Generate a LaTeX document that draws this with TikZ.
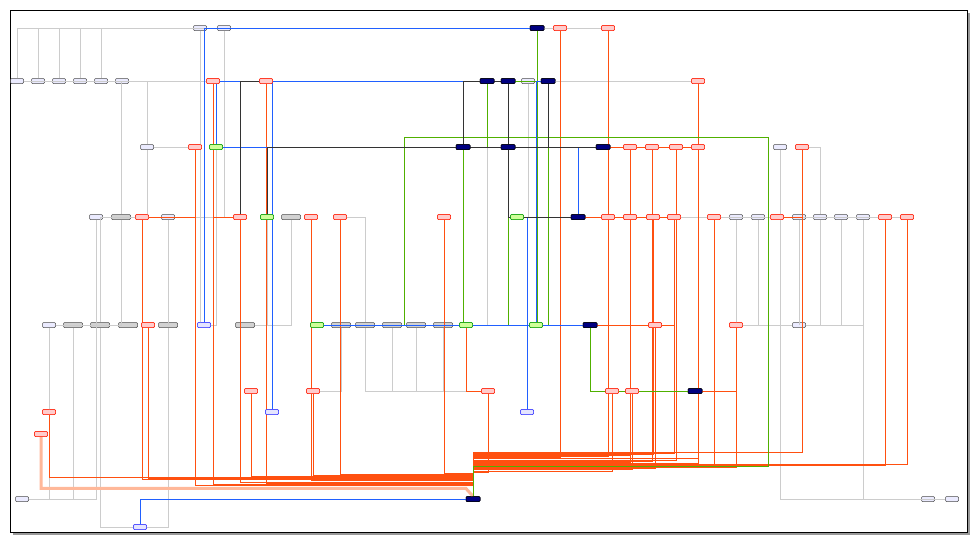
\documentclass[tikz,border=0pt]{standalone}
\begin{document}
\begin{tikzpicture}[x=1pt,y=-1pt,
 nb/.style={draw=black!70,fill=blue!8,rounded corners=1pt,minimum width=13pt,minimum height=5pt,inner sep=0pt,line width=0.5pt},
 ng/.style={nb,fill=gray!35,minimum width=19pt},
 nn/.style={nb,draw=black,fill=blue!50!black,minimum width=14pt},
 np/.style={nb,draw=red!80!orange,fill=red!20},
 nl/.style={nb,draw=green!60!black,fill=green!30!lime!40},
 nbl/.style={nb,draw=blue!80,fill=blue!10},
 oe/.style={draw={rgb,255:red,255;green,80;blue,16},line width=0.6pt},
 ge/.style={draw={rgb,255:red,80;green,176;blue,0},line width=0.6pt},
 be/.style={draw={rgb,255:red,32;green,96;blue,255},line width=0.6pt},
 ke/.style={draw=black!80,line width=0.5pt},
 ye/.style={draw=black!20,line width=0.5pt}]
\useasboundingbox (0,0) rectangle (977,542);
\fill[black!40] (13,13) rectangle (970,535);
\draw[fill=white,line width=0.6pt] (10,10) rectangle (967,532);
\foreach \n/\x/\y/\s in {
a1/200/28/nb,a2/224/28/nb,a3/537/28/nn,a4/560/28/np,a5/608/28/np,
b1/17/81/nb,b2/38/81/nb,b3/59/81/nb,b4/80/81/nb,b5/101/81/nb,b6/122/81/nb,b7/213/81/np,b8/266/81/np,b9/487/81/nn,b10/508/81/nn,b11/528/81/nb,b12/548/81/nn,b13/698/81/np,
c1/147/147/nb,c2/195/147/np,c3/216/147/nl,c4/463/147/nn,c5/508/147/nn,c6/603/147/nn,c7/630/147/np,c8/652/147/np,c9/676/147/np,c10/698/147/np,c11/780/147/nb,c12/802/147/np,
d1/96/217/nb,d2/121/217/ng,d3/142/217/np,d4/168/217/nb,d5/240/217/np,d6/267/217/nl,d7/291/217/ng,d8/311/217/np,d9/340/217/np,d10/444/217/np,d11/517/217/nl,d12/578/217/nn,d13/608/217/np,d14/630/217/np,d15/653/217/np,d16/674/217/np,d17/714/217/np,d18/736/217/nb,d19/758/217/nb,d20/777/217/np,d21/799/217/nb,d22/820/217/nb,d23/841/217/nb,d24/863/217/nb,d25/885/217/np,d26/907/217/np,
e1/49/325/nb,e2/73/325/ng,e3/100/325/ng,e4/128/325/ng,e5/148/325/np,e6/168/325/ng,e7/204/325/nbl,e8/245/325/ng,e9/317/325/nl,e10/341/325/ng,e11/365/325/ng,e12/392/325/ng,e13/416/325/ng,e14/443/325/ng,e15/466/325/nl,e16/536/325/nl,e17/590/325/nn,e18/655/325/np,e19/736/325/np,e20/799/325/nb,
f1/251/391/np,f2/313/391/np,f3/488/391/np,f4/612/391/np,f5/632/391/np,f6/695/391/nn,
g1/272/412/nbl,g2/527/412/nbl,g3/49/412/np,g4/41/434/np,
h1/22/499/nb,h2/473/499/nn,h3/928/499/nb,h4/952/499/nb,h5/140/527/nbl}
 \node[\s] (\n) at (\x,\y) {};
\foreach \a/\b in {a1/d1,a2/a3,a1/c1,a2/d4,b1/a3,b2/a3,b3/a3,b4/a4,b5/a5,b6/b13,c1/d3,c1/d4,d1/e1,d2/e2,d4/e6,d1/h1,e1/h1,d2/e4,c11/d21,d18/e20,d19/e20,d21/e20,d22/e20,d23/e20,d24/e20,b11/d22,b11/d23,b11/d24,a5/d26,a4/d25,c11/h3,d24/h4,d9/e10,d8/e9,d7/e8,e10/f2,e11/f3,e12/f3,e13/f3,e14/f3,d10/e14,d6/e8,c3/e7,a1/e7,e6/h5,e3/h5,e2/h1,b9/e12,b12/e13,c10/d18,c9/d19}
 \draw[ye] (\a) |- (\b);
\foreach \a/\b in {b1/d2,b3/c1,d3/e3,d9/e11,d21/d18,c12/d22}
 \draw[ye] (\a) -| (\b);
\draw[line width=3pt,red!40!orange!40] (g4) |- ([yshift=8pt]h2.north west) -- (h2.north);
\foreach \a [count=\k] in {c2,b7,b8,d5,d8,d3,e5,g3,f1,f2,d9,d10,f3,f4,f5,e18,e19,d17,d25,d26,b13,c7,c8,c9,c10,a4,d13,d14,d15,d16,c12}
 \draw[oe] (\a) |- ([yshift={10pt+\k*1.1pt}]h2.north) -- (h2.north);
\foreach \a/\b in {c2/d3,b7/d5,b8/c10,d8/e9,d9/e9,d10/e15,c7/d12,c8/d12,c9/d12,d14/e17,d15/e17,d16/e17,e18/f6,e19/f6,d17/f6,a4/d12,a5/d12,c12/d20,e15/f3}
 \draw[oe] (\a) |- (\b);
\foreach \a/\b in {a3/b9,a3/b10,a3/b12,a3/c6,a3/d12,a3/e17,b9/c5,b10/d12,b12/e17,d11/d12,e17/f6,e16/e17,c5/d11,b10/e16,c4/e15}
 \draw[ge] (\a) |- (\b);
\draw[ge] (e15) -| (404,137) -| (768,466) -| (h2);
\foreach \a/\b in {e7/a3,c3/b9,g1/b10,g2/d12,h5/h2,e9/e17,d6/c4,c3/c4,d12/c6,e16/b12,g2/e17}
 \draw[be] (\a) |- (\b);
\foreach \a/\b in {c4/b9,b9/b10,b12/c5,d5/b8,c5/d12,d6/c5,b10/c6}
 \draw[ke] (\a) |- (\b);
\foreach \n/\s in {a3/nn,b9/nn,b10/nn,b12/nn,c4/nn,c5/nn,c6/nn,d12/nn,e17/nn,f6/nn,h2/nn,c2/np,b7/np,b8/np,d5/np,d8/np,d3/np,e5/np,g3/np,g4/np,f1/np,f2/np,f3/np,f4/np,f5/np,e18/np,e19/np,d17/np,d25/np,d26/np,b13/np,c7/np,c8/np,c9/np,c10/np,a4/np,a5/np,d13/np,d14/np,d15/np,d16/np,c12/np,d9/np,d10/np,d20/np,c3/nl,d6/nl,d11/nl,e9/nl,e15/nl,e16/nl,e7/nbl,g1/nbl,g2/nbl,h5/nbl}
 \node[\s] at (\n) {};
\end{tikzpicture}
\end{document}
